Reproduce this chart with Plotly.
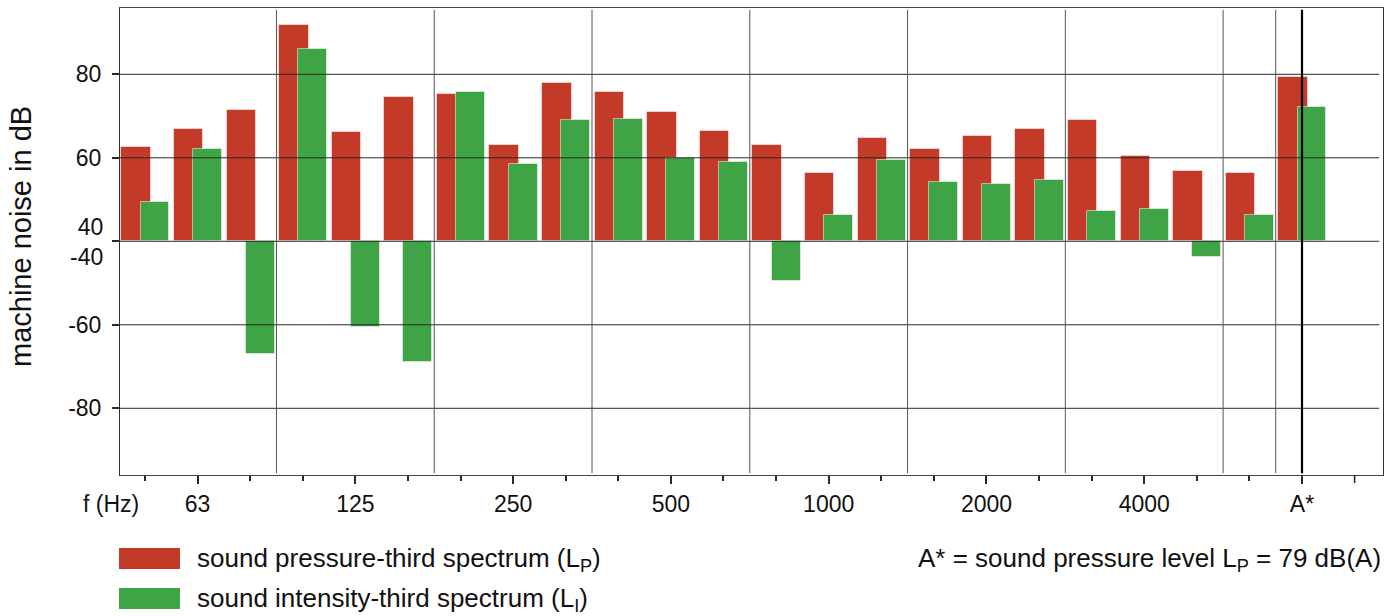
import plotly.graph_objects as go

# ---------------- data ----------------
bands = ["50", "63", "80", "100", "125", "160", "200", "250", "315", "400", "500", "630",
         "800", "1000", "1250", "1600", "2000", "2500", "3150", "4000", "5000", "6300", "A*"]
tick_labels = ["", "63", "", "", "125", "", "", "250", "", "", "500", "", "", "1000", "",
               "", "2000", "", "", "4000", "", "", "A*"]
# sound pressure-third spectrum L_P (dB)
lp = [62.5, 66.8, 71.5, 91.9, 66.2, 74.6, 75.2, 63.1, 77.9, 75.8, 71.0, 66.3,
      63.1, 56.3, 64.8, 62.0, 65.2, 66.8, 69.0, 60.5, 56.8, 56.3, 79.4]
# sound intensity-third spectrum L_I (dB, negative = negative intensity)
li = [49.4, 62.0, -66.9, 86.1, -60.6, -69.0, 75.8, 58.4, 69.0, 69.4, 60.0, 58.9,
      -49.5, 46.2, 59.4, 54.1, 53.7, 54.7, 47.3, 47.8, -43.7, 46.2, 72.1]
y_tick_values = [80, 60, -60, -80]
octave_ends = ["80", "160", "315", "630", "1250", "2500", "5000", "6300"]

RED = "#C43A28"
GREEN = "#3FA446"
LINE = "#2a2a2a"
FONT = "Liberation Sans, Arial, Helvetica, sans-serif"


def brk(v):
    """broken axis: 40..inf shown upward from baseline, -40..-inf downward"""
    return v - 40 if v > 0 else v + 40


x = list(range(len(bands)))

# layout geometry (pixels)
W, H = 1400, 616
L, R, T, B = 120, 1383, 8, 475


def pxx(p):
    return (p - L) / (R - L)


def pxy(p):
    return (B - p) / (B - T)


fig = go.Figure()
fig.add_trace(go.Bar(x=x, y=[brk(v) for v in lp], offset=-0.45, width=0.56,
                     marker=dict(color=RED, line=dict(color="rgba(255,255,255,0.5)", width=1)),
                     name="sound pressure-third spectrum (L<sub>P</sub>)",
                     customdata=lp, hovertemplate="%{customdata} dB<extra></extra>"))
fig.add_trace(go.Bar(x=x, y=[brk(v) for v in li], offset=-0.085, width=0.55,
                     marker=dict(color=GREEN, line=dict(color="rgba(255,255,255,0.5)", width=1)),
                     name="sound intensity-third spectrum (L<sub>I</sub>)",
                     customdata=li, hovertemplate="%{customdata} dB<extra></extra>"))

shapes = []
# horizontal grid lines (drawn above bars)
for v in y_tick_values + [40]:
    yv = brk(v) if v != 40 else 0
    shapes.append(dict(type="line", xref="paper", yref="y", x0=0, x1=0.997, y0=yv, y1=yv,
                       line=dict(color=LINE, width=1), layer="above"))
# octave separators
for b in octave_ends:
    xi = bands.index(b) + 0.5
    shapes.append(dict(type="line", xref="x", yref="paper", x0=xi, x1=xi, y0=0.004, y1=0.996,
                       line=dict(color="#555555", width=1), layer="above"))
# A* line
xa = bands.index("A*")
shapes.append(dict(type="line", xref="x", yref="paper", x0=xa, x1=xa, y0=0.004, y1=0.996,
                   line=dict(color="#000000", width=2.2), layer="above"))
# trailing unlabeled tick after A*
shapes.append(dict(type="line", xref="x", yref="paper", x0=len(bands), x1=len(bands),
                   y0=0, y1=-8 / (B - T), line=dict(color=LINE, width=1.6)))
# legend swatches
shapes.append(dict(type="rect", xref="paper", yref="paper", x0=pxx(119), x1=pxx(180),
                   y0=pxy(569), y1=pxy(548), fillcolor=RED, line=dict(width=0)))
shapes.append(dict(type="rect", xref="paper", yref="paper", x0=pxx(119), x1=pxx(180),
                   y0=pxy(609), y1=pxy(588), fillcolor=GREEN, line=dict(width=0)))

annotations = [
    dict(text="machine noise in dB", textangle=-90, xref="paper", yref="paper",
         x=pxx(21), y=pxy(237), xanchor="center", yanchor="middle", showarrow=False,
         font=dict(size=29, color="#111")),
    dict(text="40<br>-40", xref="paper", yref="y", x=0, y=0, xanchor="right",
         yanchor="middle", align="right", xshift=-15, yshift=-1, showarrow=False,
         font=dict(size=23, color="#111")),
    dict(text="f (Hz)", xref="paper", yref="paper", x=pxx(111), y=pxy(504),
         xanchor="center", yanchor="middle", showarrow=False, font=dict(size=23, color="#111")),
    dict(text="sound pressure-third spectrum (L<sub>P</sub>)", xref="paper", yref="paper",
         x=pxx(195), y=pxy(559), xanchor="left", yanchor="middle", showarrow=False,
         font=dict(size=26, color="#111")),
    dict(text="sound intensity-third spectrum (L<sub>I</sub>)", xref="paper", yref="paper",
         x=pxx(195), y=pxy(599), xanchor="left", yanchor="middle", showarrow=False,
         font=dict(size=26, color="#111")),
    dict(text="A* = sound pressure level L<sub>P</sub> = %d dB(A)" % round(lp[-1]),
         xref="paper", yref="paper", x=pxx(1383), y=pxy(559), xanchor="right",
         yanchor="middle", showarrow=False, font=dict(size=26, color="#111")),
]

major = [i for i, t in enumerate(tick_labels) if t]
minor = [i for i, t in enumerate(tick_labels) if not t]

fig.update_layout(
    width=W, height=H,
    margin=dict(l=L, r=W - R, t=T, b=H - B, pad=0),
    paper_bgcolor="white", plot_bgcolor="white",
    barmode="overlay", bargap=0,
    showlegend=False,
    font=dict(family=FONT, size=23, color="#111"),
    shapes=shapes, annotations=annotations,
    xaxis=dict(range=[-0.475, 23.54], tickmode="array", tickvals=major,
               ticktext=[tick_labels[i] for i in major],
               ticks="outside", ticklen=8, tickwidth=1.6, tickcolor=LINE,
               minor=dict(tickvals=minor, ticks="outside", ticklen=4.5, tickwidth=1.6,
                          tickcolor=LINE, showgrid=False),
               showgrid=False, zeroline=False, showline=True, linecolor="#444",
               linewidth=1, mirror=True, ticklabelstandoff=0,
               tickfont=dict(size=23, color="#111")),
    yaxis=dict(range=[-55.98, 55.88], tickmode="array",
               tickvals=[brk(v) for v in y_tick_values],
               ticktext=[str(v) for v in y_tick_values],
               ticks="outside", ticklen=7, tickwidth=1.6, tickcolor=LINE,
               minor=dict(tickvals=[0], ticks="outside", ticklen=7, tickwidth=1.6,
                          tickcolor=LINE, showgrid=False),
               showgrid=False, zeroline=False, showline=True, linecolor="#333",
               linewidth=1, mirror=True, ticklabelstandoff=6,
               tickfont=dict(size=23, color="#111")),
)

fig.write_html("out.html", config={"displayModeBar": False},
               post_script="document.body.style.margin='0';document.body.style.overflow='hidden';")
